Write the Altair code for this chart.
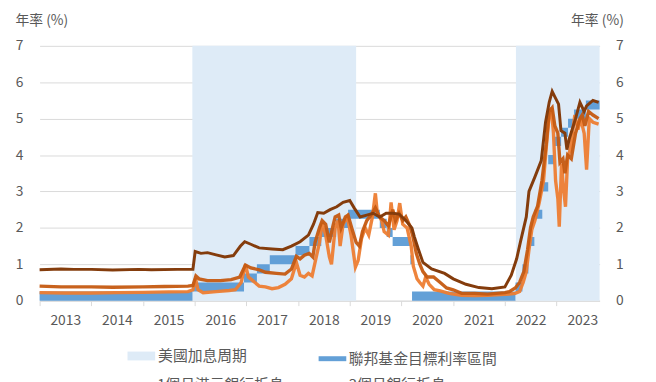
import altair as alt
import pandas as pd

# ---------------- data ----------------
hike_start = ["2015-12-16", "2022-03-20"]
hike_end = ["2019-02-15", "2023-11-01"]

fed_dates = ["2013-01-01", "2015-12-17", "2016-12-15", "2017-03-16", "2017-06-15",
             "2017-12-14", "2018-03-22", "2018-06-14", "2018-09-27", "2018-12-20",
             "2019-08-01", "2019-09-19", "2019-10-31", "2020-03-04", "2020-03-16",
             "2022-03-17", "2022-05-05", "2022-06-16", "2022-07-28", "2022-09-22",
             "2022-11-03", "2022-12-15", "2023-02-02", "2023-03-23", "2023-05-04",
             "2023-07-27", "2023-11-01"]
fed_lower = [0, 0.25, 0.5, 0.75, 1.0, 1.25, 1.5, 1.75, 2.0, 2.25, 2.0, 1.75, 1.5, 1.0, 0,
             0.25, 0.75, 1.5, 2.25, 3.0, 3.75, 4.25, 4.5, 4.75, 5.0, 5.25, 5.25]
fed_upper = [0.25, 0.5, 0.75, 1.0, 1.25, 1.5, 1.75, 2.0, 2.25, 2.5, 2.25, 2.0, 1.75, 1.25, 0.25,
             0.5, 1.0, 1.75, 2.5, 3.25, 4.0, 4.5, 4.75, 5.0, 5.25, 5.5, 5.5]

m1_dates = ["2013-01-01", "2013-07-01", "2014-01-01", "2014-07-01", "2015-01-01", "2015-07-01",
            "2015-11-15", "2015-12-20", "2016-01-08", "2016-01-25", "2016-03-01", "2016-06-01",
            "2016-09-01", "2016-10-15", "2016-11-25", "2016-12-25", "2017-01-15", "2017-02-15",
            "2017-04-01", "2017-05-15", "2017-07-01", "2017-08-15", "2017-10-01", "2017-11-15",
            "2017-12-20", "2018-01-15", "2018-02-15", "2018-03-15", "2018-04-10", "2018-05-01",
            "2018-06-01", "2018-06-20", "2018-07-15", "2018-08-10", "2018-08-25", "2018-09-20",
            "2018-10-10", "2018-10-25", "2018-11-15", "2018-12-15", "2019-01-10", "2019-02-10",
            "2019-03-01", "2019-03-25", "2019-04-20", "2019-05-15", "2019-06-10", "2019-07-01",
            "2019-07-15", "2019-08-15", "2019-09-01", "2019-10-01", "2019-10-20", "2019-11-10",
            "2019-12-01", "2019-12-20", "2020-01-10", "2020-02-10", "2020-03-10", "2020-03-25",
            "2020-04-20", "2020-05-10", "2020-06-01", "2020-06-20", "2020-07-15", "2020-08-20",
            "2020-10-01", "2020-12-01", "2021-03-01", "2021-06-01", "2021-09-01", "2021-12-01",
            "2022-02-01", "2022-03-15", "2022-04-15", "2022-05-10", "2022-06-01", "2022-06-20",
            "2022-07-10", "2022-08-01", "2022-09-01", "2022-10-01", "2022-10-20", "2022-11-10",
            "2022-11-25", "2022-12-10", "2022-12-25", "2023-01-10", "2023-01-20", "2023-02-05",
            "2023-02-20", "2023-03-05", "2023-03-20", "2023-04-10", "2023-05-10", "2023-06-01",
            "2023-06-20", "2023-07-15", "2023-08-01", "2023-08-20", "2023-09-15", "2023-10-25"]
m1_vals = [0.22, 0.21, 0.21, 0.22, 0.23, 0.24,
           0.25, 0.30, 0.60, 0.30, 0.22, 0.25,
           0.28, 0.30, 0.50, 1.00, 0.65, 0.55,
           0.40, 0.38, 0.33, 0.36, 0.45, 0.60,
           1.05, 0.70, 0.65, 0.75, 0.68, 1.05,
           1.60, 2.14, 1.80, 1.20, 1.00, 2.00,
           2.20, 1.50, 2.10, 2.30, 1.80, 0.92,
           1.10, 1.70, 2.00, 1.80, 2.30, 2.95,
           2.40, 2.20, 1.90, 1.80, 2.70, 1.95,
           2.20, 2.68, 2.10, 2.00, 1.50, 0.95,
           0.60, 0.50, 0.40, 0.65, 0.45, 0.30,
           0.27, 0.20, 0.15, 0.14, 0.15, 0.17,
           0.18, 0.20, 0.25, 0.50, 0.80, 1.40,
           1.95, 2.20, 2.70, 3.30, 4.20, 5.10,
           5.30, 4.60, 3.30, 2.80, 2.03, 3.77,
           3.04, 2.58, 3.90, 4.20, 5.10, 4.70,
           5.00, 4.60, 3.60, 5.00, 4.90, 4.85]

m3_dates = ["2013-01-01", "2013-06-01", "2014-01-01", "2014-06-01", "2015-01-01", "2015-06-01",
            "2015-11-15", "2015-12-20", "2016-01-10", "2016-02-01", "2016-04-01", "2016-07-01",
            "2016-09-15", "2016-11-15", "2016-12-25", "2017-02-01", "2017-04-01", "2017-05-15",
            "2017-08-01", "2017-10-01", "2017-11-15", "2017-12-20", "2018-01-15", "2018-02-15",
            "2018-03-20", "2018-04-15", "2018-05-01", "2018-06-01", "2018-06-20", "2018-07-15",
            "2018-08-10", "2018-09-01", "2018-09-20", "2018-10-15", "2018-11-01", "2018-12-01",
            "2018-12-20", "2019-01-15", "2019-02-15", "2019-03-10", "2019-04-01", "2019-05-01",
            "2019-06-01", "2019-07-01", "2019-08-01", "2019-09-01", "2019-10-01", "2019-11-01",
            "2019-11-20", "2019-12-15", "2020-01-10", "2020-02-01", "2020-03-01", "2020-03-20",
            "2020-04-15", "2020-05-10", "2020-06-01", "2020-07-01", "2020-08-15", "2020-10-01",
            "2020-11-15", "2021-01-01", "2021-03-01", "2021-06-01", "2021-09-01", "2021-11-01",
            "2022-01-01", "2022-02-01", "2022-03-15", "2022-04-15", "2022-05-15", "2022-06-10",
            "2022-07-01", "2022-07-20", "2022-08-20", "2022-09-20", "2022-10-20", "2022-11-10",
            "2022-12-01", "2022-12-20", "2023-01-10", "2023-01-25", "2023-02-15", "2023-03-01",
            "2023-03-20", "2023-04-15", "2023-05-15", "2023-06-15", "2023-07-01", "2023-07-20",
            "2023-08-15", "2023-09-15", "2023-10-25"]
m3_vals = [0.40, 0.38, 0.38, 0.37, 0.38, 0.39,
           0.40, 0.42, 0.68, 0.60, 0.55, 0.55,
           0.58, 0.65, 0.98, 0.90, 0.85, 0.78,
           0.75, 0.73, 0.87, 1.22, 1.15, 1.25,
           1.30, 1.20, 1.60, 2.00, 2.20, 2.10,
           1.60, 2.00, 2.30, 2.35, 2.00, 2.30,
           2.35, 2.00, 1.60, 1.50, 1.90, 2.20,
           2.35, 2.55, 2.30, 2.20, 2.05, 2.50,
           2.20, 2.40, 2.20, 2.30, 2.05, 1.80,
           1.30, 1.00, 0.80, 0.65, 0.65, 0.50,
           0.35, 0.30, 0.20, 0.20, 0.18, 0.20,
           0.22, 0.25, 0.35, 0.50, 0.80, 1.40,
           2.00, 2.30, 2.60, 3.30, 4.30, 5.20,
           5.30, 4.80, 4.60, 3.80, 3.90, 3.50,
           4.00, 3.90, 4.60, 5.00, 5.10, 4.80,
           5.20, 5.10, 5.00]

m12_dates = ["2013-01-01", "2013-06-01", "2013-09-01", "2014-01-01", "2014-06-01", "2014-12-01",
             "2015-03-01", "2015-09-01", "2015-12-20", "2016-01-05", "2016-02-15", "2016-04-01",
             "2016-06-01", "2016-08-01", "2016-10-01", "2016-11-20", "2016-12-20", "2017-02-01",
             "2017-04-01", "2017-07-01", "2017-09-15", "2017-11-15", "2018-01-15", "2018-03-15",
             "2018-04-20", "2018-05-20", "2018-07-01", "2018-08-15", "2018-10-01", "2018-11-15",
             "2019-01-01", "2019-02-01", "2019-03-15", "2019-05-01", "2019-06-15", "2019-08-01",
             "2019-09-15", "2019-11-01", "2019-12-15", "2020-02-01", "2020-03-15", "2020-04-01",
             "2020-05-01", "2020-06-01", "2020-08-01", "2020-11-01", "2021-01-01", "2021-04-01",
             "2021-07-01", "2021-10-01", "2022-01-01", "2022-02-15", "2022-03-25", "2022-04-20",
             "2022-06-01", "2022-06-20", "2022-08-01", "2022-09-15", "2022-10-15", "2022-11-10",
             "2022-12-01", "2022-12-20", "2023-01-15", "2023-02-01", "2023-03-01", "2023-03-15",
             "2023-04-01", "2023-05-15", "2023-06-15", "2023-07-15", "2023-08-01", "2023-09-15",
             "2023-10-25"]
m12_vals = [0.85, 0.87, 0.86, 0.86, 0.84, 0.86,
            0.85, 0.86, 0.86, 1.35, 1.30, 1.32,
            1.26, 1.20, 1.24, 1.50, 1.62, 1.55,
            1.45, 1.42, 1.40, 1.50, 1.62, 1.80,
            2.10, 2.42, 2.40, 2.50, 2.58, 2.70,
            2.75, 2.55, 2.30, 2.35, 2.40, 2.30,
            2.40, 2.40, 2.38, 2.20, 2.00, 1.76,
            1.40, 1.05, 0.87, 0.75, 0.60, 0.45,
            0.36, 0.33, 0.38, 0.70, 1.15, 1.60,
            2.30, 3.00, 3.40, 3.85, 4.90, 5.45,
            5.75, 5.60, 5.40, 4.67, 4.60, 4.15,
            4.45, 5.00, 5.45, 5.20, 5.35, 5.50,
            5.45]

shade_name = "美國加息周期"
shade_color = "#deebf7"
line_names = [" ", "聯邦基金目標利率區間", "1個月港元銀行拆息", "3個月銀行拆息"]
line_colors = ["transparent", "#5b9bd5", "#ed7d31", "#c55a11"]
color_12m = "#843c0c"
y_ticks = [0, 1, 2, 3, 4, 5, 6, 7]
year_ticks = list(range(2013, 2024))
y_title = "年率 (%)"

# ---------------- tables ----------------
shade_df = pd.DataFrame({"start": hike_start, "end": hike_end, "series": shade_name})
fed_df = pd.DataFrame({"date": fed_dates, "lower": fed_lower, "upper": fed_upper})
m1_df = pd.DataFrame({"date": m1_dates, "rate": m1_vals, "series": line_names[2]})
m3_df = pd.DataFrame({"date": m3_dates, "rate": m3_vals, "series": line_names[3]})
m12_df = pd.DataFrame({"date": m12_dates, "rate": m12_vals})

FONT = "Noto Sans CJK TC"
GREY = "#595959"

xscale = alt.Scale(type="utc",
                   domain=[alt.DateTime(year=2013, month=1, date=1, utc=True),
                           alt.DateTime(year=2023, month=11, date=1, utc=True)])
xaxis = alt.Axis(values=[alt.DateTime(year=y, month=1, date=1, utc=True) for y in year_ticks],
                 labelExpr="utcFormat(datum.value, '%Y')", labelOffset=26,
                 grid=False, tickSize=5, tickColor="#d9d9d9", domainColor="#d9d9d9",
                 labelPadding=8, labelFontSize=14, labelColor=GREY, labelFont=FONT,
                 labelFlush=False, labelOverlap=False, labelBound=False, title=None)
yscale = alt.Scale(domain=[0, 7], nice=False, zero=True)

left_axis = alt.Axis(values=y_ticks, grid=True, gridColor="#d9d9d9", domain=False, ticks=False,
                     labelPadding=17, labelFontSize=14, labelColor=GREY, labelFont=FONT,
                     title=y_title, titleAngle=0, titleAlign="left", titleBaseline="middle",
                     titleX=-25, titleY=-26, titleFontSize=14, titleFontWeight="normal",
                     titleColor=GREY, titleFont=FONT)
right_axis = alt.Axis(values=y_ticks, grid=False, domain=False, ticks=False, orient="right",
                      labelPadding=16, labelFontSize=14, labelColor=GREY, labelFont=FONT,
                      title=y_title, titleAngle=0, titleAlign="right", titleBaseline="middle",
                      titleX=24, titleY=-26, titleFontSize=14, titleFontWeight="normal",
                      titleColor=GREY, titleFont=FONT)

LX, LY = 89, 300
shade_legend = alt.Legend(
    title=None, orient="none", legendX=LX, legendY=LY,
    symbolType="M-1,-0.32H1V0.32H-1Z", symbolSize=784, symbolStrokeWidth=0,
    labelFont=FONT, labelFontSize=15, labelColor=GREY, labelOffset=3, labelLimit=400)
line_legend = alt.Legend(
    title=None, orient="none", legendX=LX - 3, legendY=LY, columns=2, columnPadding=24,
    direction="horizontal", rowPadding=-8, symbolType="stroke", symbolSize=784,
    symbolStrokeWidth=5,
    labelFont=FONT, labelFontSize=15, labelColor=GREY, labelOffset=0, labelLimit=400)

fill = alt.Fill("series:N", scale=alt.Scale(domain=[shade_name], range=[shade_color]),
                legend=shade_legend)
color = alt.Color("series:N", scale=alt.Scale(domain=line_names, range=line_colors),
                  legend=line_legend)

shade = alt.Chart(shade_df).mark_rect(opacity=1).encode(
    x=alt.X("start:T", scale=xscale, axis=xaxis),
    x2="end:T",
    y=alt.Y(datum=0, scale=yscale, axis=left_axis),
    y2=alt.Y2(datum=7),
    fill=fill,
)

band = alt.Chart(fed_df).mark_area(interpolate="step-after", opacity=0.95,
                                   color=line_colors[1]).encode(
    x=alt.X("date:T", scale=xscale, axis=xaxis),
    y=alt.Y("lower:Q", scale=yscale, axis=None),
    y2="upper:Q",
)

line1 = alt.Chart(m1_df).mark_line(strokeWidth=3.4, opacity=0.95).encode(
    x=alt.X("date:T", scale=xscale, axis=xaxis),
    y=alt.Y("rate:Q", scale=yscale, axis=None),
    color=color,
)

line3 = alt.Chart(m3_df).mark_line(strokeWidth=3.4, opacity=0.95).encode(
    x=alt.X("date:T", scale=xscale, axis=xaxis),
    y=alt.Y("rate:Q", scale=yscale, axis=None),
    color=color,
)

line12 = alt.Chart(m12_df).mark_line(strokeWidth=3, color=color_12m).encode(
    x=alt.X("date:T", scale=xscale, axis=xaxis),
    y=alt.Y("rate:Q", scale=yscale, axis=right_axis),
)

chart = alt.layer(shade, band, line1, line3, line12).resolve_scale(
    y="independent"
).properties(
    width=567, height=258,
    padding={"left": 32, "top": 36, "right": 49, "bottom": 80},
    autosize=alt.AutoSizeParams(type="none"),
    background="white",
).configure_view(stroke=None)

chart.save("out.html", embed_options={"renderer": "svg", "actions": False})
